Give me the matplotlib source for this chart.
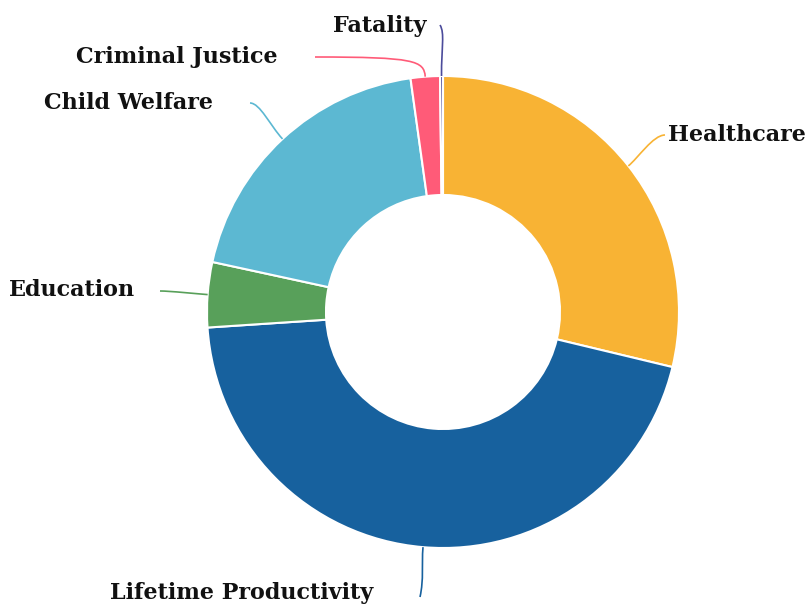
import numpy as np
import matplotlib
matplotlib.use("Agg")
import matplotlib.pyplot as plt
from matplotlib.path import Path
from matplotlib.patches import PathPatch

W, H = 806, 608

categories = ["Healthcare", "Lifetime Productivity", "Education", "Child Welfare", "Criminal Justice", "Fatality"]
shares = [28.75, 45.2, 4.45, 19.4, 2.0, 0.2]
colors = ["#F8B334", "#17619E", "#58A05A", "#5CB8D2", "#FF5B78", "#4B4B9B"]

CENTER = (443, 312)
R_OUT = 236
R_IN = 117

# label text anchor (pixels, y down), alignment, leader end point and handle offsets
LABELS = {
    "Healthcare": dict(text=(668, 135, "left"), end=(665, 135), h1=12, h2=(-12, 0)),
    "Lifetime Productivity": dict(text=(110, 593, "left"), end=(420, 597), h1=18, h2=(4, -18)),
    "Education": dict(text=(9, 290, "left"), end=(160, 291), h1=10, h2=(10, 0)),
    "Child Welfare": dict(text=(44, 103, "left"), end=(250, 103), h1=18, h2=(10, 0)),
    "Criminal Justice": dict(text=(76, 57, "left"), end=(315, 57), h1=16, h2=(100, 0)),
    "Fatality": dict(text=(333, 26, "left"), end=(440, 25), h1=28, h2=(5, 8)),
}

fig = plt.figure(figsize=(W / 100, H / 100), dpi=100)
ax = fig.add_axes([0, 0, 1, 1])
ax.set_xlim(0, W)
ax.set_ylim(0, H)
ax.set_aspect("equal")
ax.axis("off")

cx, cy = CENTER[0], H - CENTER[1]
wedges, _ = ax.pie(shares, colors=colors, startangle=90, counterclock=False, radius=R_OUT,
                   center=(cx, cy), wedgeprops=dict(width=R_OUT - R_IN, edgecolor="white", linewidth=1.5))
ax.set_xlim(0, W)
ax.set_ylim(0, H)

for wedge, name, color in zip(wedges, categories, colors):
    mid = np.deg2rad((wedge.theta1 + wedge.theta2) / 2)
    ux, uy = np.cos(mid), np.sin(mid)
    p0 = (cx + R_OUT * ux, cy + R_OUT * uy)
    cfg = LABELS[name]
    ex, ey = cfg["end"][0], H - cfg["end"][1]
    p1 = (p0[0] + cfg["h1"] * ux, p0[1] + cfg["h1"] * uy)
    p2 = (ex + cfg["h2"][0], ey - cfg["h2"][1])
    path = Path([p0, p1, p2, (ex, ey)], [Path.MOVETO, Path.CURVE4, Path.CURVE4, Path.CURVE4])
    ax.add_patch(PathPatch(path, facecolor="none", edgecolor=color, linewidth=1.2))
    tx, ty, ha = cfg["text"]
    ax.text(tx, H - ty, name, ha=ha, va="center", fontsize=16, fontweight="bold",
            family="DejaVu Serif", color="#111111")

fig.savefig("out.png", dpi=100)
